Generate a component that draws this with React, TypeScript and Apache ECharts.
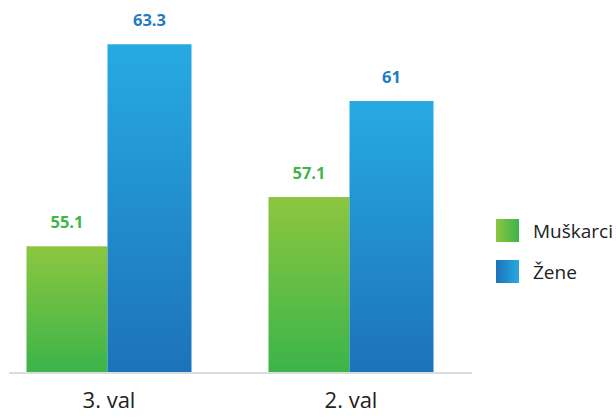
import React, { useEffect, useRef } from "react";
import * as echarts from "echarts";

const categories = ["3. val", "2. val"];
const muskarci = [55.1, 57.1];
const zene = [63.3, 61];
const seriesNames = ["Muškarci", "Žene"];

export default function App() {
  const ref = useRef<HTMLDivElement>(null);
  useEffect(() => {
    const chart = echarts.init(ref.current!, undefined, { renderer: "svg" });
    const vGreen = new echarts.graphic.LinearGradient(0, 0, 0, 1, [
      { offset: 0, color: "#8dc63f" },
      { offset: 1, color: "#3bb44a" },
    ]);
    const vBlue = new echarts.graphic.LinearGradient(0, 0, 0, 1, [
      { offset: 0, color: "#27aae1" },
      { offset: 1, color: "#1c72bb" },
    ]);
    const hGreen = new echarts.graphic.LinearGradient(0, 0, 1, 0, [
      { offset: 0, color: "#8dc63f" },
      { offset: 1, color: "#3bb44a" },
    ]);
    const hBlue = new echarts.graphic.LinearGradient(0, 0, 1, 0, [
      { offset: 0, color: "#1c72bb" },
      { offset: 1, color: "#27aae1" },
    ]);
    const font = "'Open Sans', 'Noto Sans', sans-serif";
    chart.setOption({
      animation: false,
      grid: { left: -12, top: 27, width: 484, height: 345, outerBoundsMode: "none", containLabel: false },
      legend: {
        orient: "vertical",
        left: 491,
        top: 214,
        itemWidth: 23,
        itemHeight: 23,
        itemGap: 18,
        icon: "rect",
        textStyle: { fontSize: 19, color: "#222", fontFamily: font, padding: [0, 0, 0, 9] },
        data: [
          { name: seriesNames[0], itemStyle: { color: hGreen } },
          { name: seriesNames[1], itemStyle: { color: hBlue } },
        ],
      },
      xAxis: {
        type: "category",
        data: categories,
        axisLine: { show: false },
        axisTick: { show: false },
        axisLabel: { fontSize: 22, color: "#222", fontFamily: font, margin: 16 },
      },
      yAxis: {
        type: "value",
        min: 50,
        max: 64,
        show: false,
        splitLine: { show: false },
      },
      graphic: [
        {
          type: "line",
          shape: { x1: 9, y1: 373, x2: 472, y2: 373 },
          style: { stroke: "#dcdcdc", lineWidth: 2 },
        },
      ],
      series: [
        {
          name: seriesNames[0],
          type: "bar",
          data: muskarci,
          barWidth: 81,
          barGap: "0%",
          itemStyle: { color: vGreen },
          label: {
            show: true,
            position: "top",
            distance: 16,
            color: "#3fb54a",
            fontWeight: "bold",
            fontSize: 16.5,
            fontFamily: font,
          },
        },
        {
          name: seriesNames[1],
          type: "bar",
          data: zene,
          barWidth: 84,
          itemStyle: { color: vBlue },
          label: {
            show: true,
            position: "top",
            distance: 16,
            color: "#1f7cc4",
            fontWeight: "bold",
            fontSize: 16.5,
            fontFamily: font,
          },
        },
      ],
    });
    return () => chart.dispose();
  }, []);
  return <div ref={ref} style={{ width: 616, height: 419, position: "absolute", left: 0, top: 0 }} />;
}
